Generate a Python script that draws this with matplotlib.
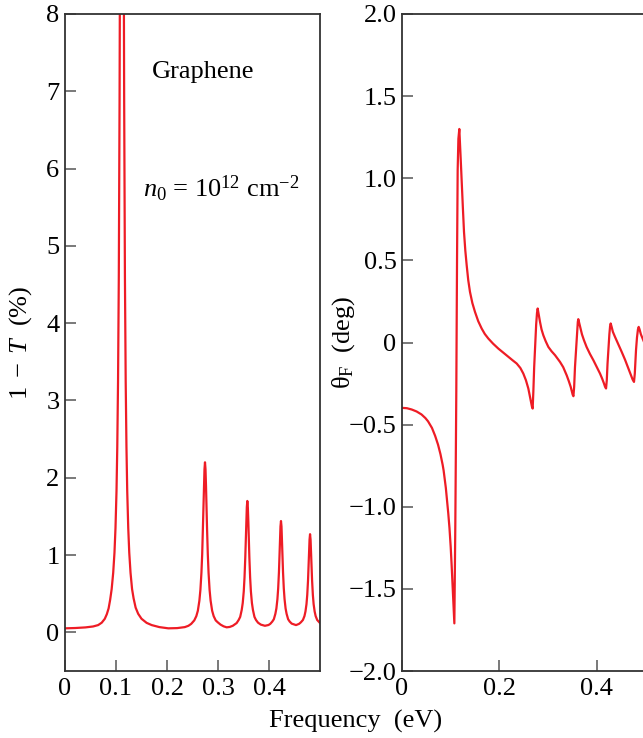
import matplotlib
matplotlib.use("Agg")
import matplotlib.pyplot as plt

# ---------------- data ----------------
# Left panel: 1 - T (%) vs frequency (eV)
trans_freq = [0.000, 0.020, 0.040, 0.055, 0.065, 0.072, 0.078, 0.082, 0.0855, 0.0885,
              0.0915, 0.0945, 0.097, 0.099, 0.101, 0.1025, 0.104, 0.1055, 0.107, 0.1085,
              0.110, 0.1115, 0.113, 0.1145, 0.116, 0.1175, 0.119, 0.1205, 0.122, 0.124,
              0.126, 0.1285, 0.1315, 0.1345, 0.1385, 0.1435, 0.150, 0.160, 0.170, 0.185,
              0.2026, 0.220, 0.235, 0.242, 0.2475, 0.2535, 0.2575, 0.2605, 0.2635, 0.2655,
              0.2675, 0.269, 0.2705, 0.2715, 0.2725, 0.2735, 0.2745, 0.2755, 0.2765, 0.2775,
              0.2785, 0.280, 0.2815, 0.2835, 0.2855, 0.2885, 0.2915, 0.2955, 0.2995, 0.305,
              0.311, 0.317, 0.323, 0.329, 0.3365, 0.3405, 0.3435, 0.3465, 0.3485, 0.3505,
              0.352, 0.3535, 0.3545, 0.3555, 0.3565, 0.3575, 0.3585, 0.3595, 0.3605, 0.3615,
              0.363, 0.3645, 0.3665, 0.3685, 0.3715, 0.3745, 0.3785, 0.384, 0.392, 0.399,
              0.4025, 0.4065, 0.4095, 0.4125, 0.4145, 0.4165, 0.418, 0.4195, 0.4205, 0.4215,
              0.4225, 0.4235, 0.4245, 0.4255, 0.4265, 0.4275, 0.429, 0.4305, 0.4325, 0.4345,
              0.4375, 0.4405, 0.4445, 0.453, 0.459, 0.4625, 0.4665, 0.4695, 0.4715, 0.4735,
              0.475, 0.4765, 0.4775, 0.4785, 0.4795, 0.4805, 0.4815, 0.4825, 0.4835, 0.4845,
              0.486, 0.4875, 0.4895, 0.4915, 0.4945, 0.500]
absorb = [0.052, 0.056, 0.064, 0.076, 0.094, 0.125, 0.175, 0.235, 0.31, 0.42,
          0.56, 0.77, 1.03, 1.35, 1.83, 2.40, 3.25, 4.6, 6.9, 10.4,
          15.6, 19.0, 15.6, 10.4, 6.9, 4.6, 3.25, 2.40, 1.83, 1.35,
          1.03, 0.77, 0.56, 0.44, 0.32, 0.24, 0.176, 0.123, 0.094, 0.068,
          0.052, 0.055, 0.068, 0.085, 0.11, 0.155, 0.21, 0.28, 0.41, 0.55,
          0.77, 1.01, 1.35, 1.62, 1.89, 2.11, 2.20, 2.11, 1.89, 1.62,
          1.35, 1.01, 0.77, 0.55, 0.41, 0.28, 0.21, 0.155, 0.13, 0.10,
          0.078, 0.065, 0.07, 0.085, 0.12, 0.16, 0.20, 0.29, 0.38, 0.53,
          0.71, 0.97, 1.19, 1.43, 1.62, 1.70, 1.62, 1.43, 1.19, 0.97,
          0.71, 0.53, 0.38, 0.29, 0.20, 0.16, 0.125, 0.10, 0.085, 0.095,
          0.11, 0.14, 0.17, 0.24, 0.31, 0.43, 0.57, 0.78, 0.97, 1.18,
          1.37, 1.44, 1.37, 1.18, 0.97, 0.78, 0.57, 0.43, 0.31, 0.24,
          0.17, 0.14, 0.113, 0.094, 0.11, 0.13, 0.16, 0.21, 0.27, 0.365,
          0.485, 0.67, 0.84, 1.03, 1.20, 1.27, 1.20, 1.03, 0.84, 0.67,
          0.485, 0.365, 0.27, 0.21, 0.16, 0.12]

# Right panel: Faraday rotation theta_F (deg) vs frequency (eV)
rot_freq = [0.000, 0.010, 0.020, 0.030, 0.040, 0.048, 0.0535, 0.0575, 0.0615, 0.065,
            0.068, 0.071, 0.074, 0.0765, 0.079, 0.0815, 0.0835, 0.0855, 0.088, 0.090,
            0.0915, 0.0935, 0.095, 0.0975, 0.100, 0.102, 0.104, 0.106, 0.1075, 0.1095,
            0.1115, 0.1130, 0.1143, 0.1158, 0.1177, 0.119, 0.1205, 0.1225, 0.125, 0.1273,
            0.130, 0.1328, 0.136, 0.1396, 0.1445, 0.1499, 0.1565, 0.1636, 0.170, 0.1773,
            0.187, 0.1978, 0.208, 0.2183, 0.227, 0.2355, 0.243, 0.2491, 0.2545, 0.2594,
            0.2625, 0.2649, 0.2668, 0.2683, 0.2697, 0.2714, 0.2731, 0.2755, 0.2772, 0.2786,
            0.2805, 0.2834, 0.2865, 0.2902, 0.295, 0.3005, 0.307, 0.3142, 0.3244, 0.331,
            0.3382, 0.3425, 0.3464, 0.349, 0.3505, 0.352, 0.3535, 0.3552, 0.3573, 0.3595,
            0.361, 0.362, 0.3638, 0.3665, 0.3695, 0.3735, 0.379, 0.386, 0.393, 0.400,
            0.4066, 0.411, 0.4148, 0.417, 0.419, 0.4205, 0.422, 0.4237, 0.4258, 0.4273,
            0.4285, 0.4303, 0.433, 0.4374, 0.444, 0.4511, 0.458, 0.4648, 0.4695, 0.4735,
            0.4764, 0.478, 0.4792, 0.4805, 0.4825, 0.4845, 0.486, 0.4878, 0.4905, 0.4955,
            0.500]
theta_f = [-0.398, -0.400, -0.408, -0.42, -0.438, -0.46, -0.48, -0.50, -0.52, -0.545,
           -0.568, -0.595, -0.622, -0.65, -0.68, -0.717, -0.745, -0.78, -0.84, -0.885,
           -0.93, -0.985, -1.04, -1.13, -1.245, -1.36, -1.49, -1.62, -1.71, -1.1,
           -0.3, 0.5, 1.05, 1.24, 1.30, 1.22, 1.12, 0.98, 0.82, 0.674,
           0.56, 0.471, 0.38, 0.308, 0.24, 0.186, 0.13, 0.085, 0.052, 0.024,
           -0.007, -0.037, -0.062, -0.088, -0.108, -0.128, -0.155, -0.189, -0.23, -0.28,
           -0.325, -0.362, -0.39, -0.402, -0.30, -0.15, -0.037, 0.11, 0.18, 0.207,
           0.175, 0.125, 0.08, 0.044, 0.008, -0.027, -0.053, -0.077, -0.118, -0.15,
           -0.20, -0.235, -0.27, -0.30, -0.318, -0.327, -0.27, -0.15, -0.047, 0.07,
           0.125, 0.142, 0.12, 0.085, 0.05, 0.015, -0.027, -0.07, -0.108, -0.15,
           -0.189, -0.22, -0.25, -0.27, -0.28, -0.23, -0.13, -0.047, 0.05, 0.10,
           0.116, 0.097, 0.065, 0.034, -0.01, -0.057, -0.105, -0.158, -0.195, -0.225,
           -0.24, -0.19, -0.12, -0.047, 0.03, 0.08, 0.095, 0.08, 0.05, 0.014,
           -0.02]

left_xticks = [0, 0.1, 0.2, 0.3, 0.4]
left_xticklabels = ["0", "0.1", "0.2", "0.3", "0.4"]
left_yticks = [0, 1, 2, 3, 4, 5, 6, 7, 8]
left_yticklabels = ["0", "1", "2", "3", "4", "5", "6", "7", "8"]
right_xticks = [0, 0.2, 0.4]
right_xticklabels = ["0", "0.2", "0.4"]
right_yticks = [-2.0, -1.5, -1.0, -0.5, 0, 0.5, 1.0, 1.5, 2.0]
right_yticklabels = ["\u22122.0", "\u22121.5", "\u22121.0", "\u22120.5", "0",
                     "0.5", "1.0", "1.5", "2.0"]

# ---------------- style ----------------
plt.rcParams["font.family"] = ["Liberation Serif", "DejaVu Serif"]
plt.rcParams["mathtext.fontset"] = "custom"
plt.rcParams["mathtext.rm"] = "Liberation Serif"
plt.rcParams["mathtext.it"] = "Liberation Serif:italic"
plt.rcParams["mathtext.bf"] = "Liberation Serif:bold"

FS = 19
RED = "#ee1c25"
SPINE = "#333333"

W, H = 643, 738
fig = plt.figure(figsize=(W / 100, H / 100), dpi=100)

ax1 = fig.add_axes([65 / W, 67 / H, 255 / W, 657 / H])
ax2 = fig.add_axes([402 / W, 67 / H, 243.5 / W, 657 / H])

for ax in (ax1, ax2):
    for s in ax.spines.values():
        s.set_color(SPINE)
        s.set_linewidth(1.3)
    ax.tick_params(direction="in", length=8, width=1.1, color="#555555",
                   labelsize=FS, pad=5)
    ax.set_xlim(0, 0.5)

ax1.plot(trans_freq, absorb, color=RED, lw=1.6, solid_joinstyle="round")
ax1.set_ylim(-0.5, 8)
ax1.set_xticks(left_xticks)
ax1.set_xticklabels(left_xticklabels)
ax1.set_yticks(left_yticks)
ax1.set_yticklabels(left_yticklabels)
ax1.tick_params(axis="y", pad=4)
ax1.set_ylabel(r"$1\;-\;T$  (%)", fontsize=FS)
ax1.yaxis.set_label_coords(-0.1216, 0.5)
ax1.text(0.17, 7.17, "Graphene", fontsize=FS, ha="left", va="baseline")
ax1.text(0.153, 5.635, r"$n_0$ = 10$^{12}$ cm$^{\mathrm{-2}}$", fontsize=FS,
         ha="left", va="baseline")

ax2.plot(rot_freq, theta_f, color=RED, lw=1.6, solid_joinstyle="round")
ax2.set_ylim(-2.0, 2.0)
ax2.set_xticks(right_xticks)
ax2.set_xticklabels(right_xticklabels)
ax2.set_yticks(right_yticks)
ax2.set_yticklabels(right_yticklabels)
ax2.tick_params(axis="y", pad=4)
ax2.set_ylabel("\u03b8$_{\\mathrm{F}}$  (deg)", fontsize=FS)
ax2.yaxis.set_label_coords(-0.185, 0.5)

fig.text(356 / W, (H - 728) / H, "Frequency  (eV)", fontsize=FS,
         ha="center", va="baseline")

fig.savefig("out.png", dpi=100)
